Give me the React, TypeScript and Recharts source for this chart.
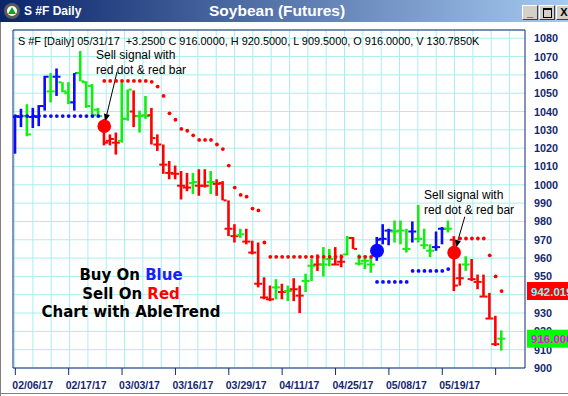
import React from 'react';
import {
  ComposedChart,
  Bar,
  Scatter,
  XAxis,
  YAxis,
  CartesianGrid,
  ReferenceArea,
  ReferenceLine,
  ReferenceDot,
} from 'recharts';

// ---------- data ----------
const TICK_INDEX = [0, 9, 18, 27, 36, 45, 54, 63, 72, 81];
const TICK_LABELS = ['02/06/17', '02/17/17', '03/03/17', '03/16/17', '03/29/17', '04/11/17', '04/25/17', '05/08/17', '05/19/17', ''];
const Y_TICKS = [900, 910, 920, 930, 940, 950, 960, 970, 980, 990, 1000, 1010, 1020, 1030, 1040, 1050, 1060, 1070, 1080];

// trend state per bar: B = up (blue), G = neutral (green), R = down (red)
const trend = [
  'B', 'B', 'G', 'B', 'B', 'B', 'G', 'B', 'G', 'G',
  'B', 'G', 'G', 'G', 'G', 'R', 'R', 'R', 'G', 'G',
  'R', 'G', 'G', 'R', 'R', 'R', 'R', 'R', 'R', 'R',
  'G', 'R', 'R', 'G', 'R', 'R', 'R', 'R', 'G', 'R',
  'R', 'R', 'R', 'R', 'G', 'R', 'G', 'R', 'R', 'G',
  'G', 'R', 'G', 'G', 'R', 'R', 'G', 'R', 'G', 'G',
  'G', 'B', 'B', 'B', 'G', 'G', 'G', 'B', 'G', 'G',
  'G', 'B', 'B', 'G', 'R', 'R', 'G', 'R', 'R', 'R',
  'R', 'R', 'G',
];
const highs = [
  1038, 1041.5, 1044, 1042, 1043.5, 1059.5, 1061, 1063.5, 1056, 1056,
  1061, 1073, 1056.5, 1055, 1042, 1036, 1027.5, 1028.5, 1056, 1052,
  1051.5, 1040.5, 1048.5, 1042, 1027.5, 1022, 1013, 1010.5, 1007.5, 1006.5,
  1006.5, 1008.5, 1008.5, 1007.5, 1003, 1002, 991.5, 978.5, 976, 976,
  969.5, 968.5, 949.5, 945, 948.5, 946, 945, 949, 945, 951.5,
  959.5, 962, 966, 965, 966, 962, 972, 971.5, 962, 961.5,
  960.5, 971.5, 978.5, 976, 980.5, 980.5, 976, 980, 989, 976,
  967.5, 974.5, 977, 980.5, 972, 957, 961, 959.5, 951, 951,
  941, 928.5, 920.5,
];
const lows = [
  1017, 1031.5, 1026.5, 1031, 1032, 1040.5, 1045, 1048.5, 1050.5, 1044,
  1040.5, 1056.5, 1042, 1037.5, 1037, 1021.5, 1021.5, 1016.5, 1023, 1035,
  1031.5, 1028.5, 1036, 1022, 1018.5, 1006, 1003, 1003, 992, 996.5,
  995, 994, 998.5, 995, 994, 991.5, 972, 968.5, 971, 967.5,
  962, 944, 937.5, 936.5, 937.5, 937.5, 936.5, 936.5, 930, 941.5,
  947.5, 953, 950, 955.5, 956, 955, 961.5, 965, 956, 954,
  952, 958.5, 967.5, 967, 968.5, 967.5, 963, 968.5, 968.5, 965,
  960.5, 964, 967.5, 974, 942, 945, 953, 947.5, 943, 938.5,
  926.5, 912, 909.5,
];
const opens = [
  1037, 1037, 1037.5, 1037, 1037, 1043, 1051, 1059, 1056, 1050,
  1045, 1061, 1056, 1054, 1041, 1033, 1024, 1023, 1024, 1036,
  1040, 1037.5, 1038, 1038, 1022, 1011, 1006.5, 1006, 999.5, 998.5,
  1001, 999.5, 999.5, 1001.5, 1000.5, 1001, 976, 972, 972.5, 969,
  963, 946, 938.5, 937.5, 944, 941.5, 942, 943, 939.5, 947.5,
  955.8, 956.5, 956.5, 959.5, 956.5, 958, 962, 971, 957, 958.5,
  956.5, 964, 970.5, 975, 974.5, 975, 965, 974.5, 970.5, 967,
  964, 966, 976, 976, 970, 949, 956.5, 948.5, 947, 939,
  927, 913, 916,
];
const closes = [
  1037.5, 1037.5, 1027.5, 1037.5, 1043, 1059, 1051, 1059, 1051, 1045,
  1061, 1056.5, 1043, 1038, 1037.5, 1023, 1025, 1023, 1036, 1052,
  1037.5, 1037.5, 1037.5, 1025.5, 1022, 1011, 1006.5, 1006, 999.5, 998.5,
  1001.5, 999.5, 999.5, 1001.5, 1000.5, 991.5, 976, 972, 973, 969,
  963, 946, 938.5, 937.5, 944, 941.5, 942, 943, 939.5, 947.5,
  955.8, 956.5, 956.5, 959.5, 956.5, 958, 971, 965, 957, 958.5,
  956.5, 970, 970.5, 975, 974.5, 975, 965, 974.5, 970.5, 967,
  964, 966, 976, 976, 945, 949, 956.5, 948.5, 947, 939,
  927, 913, 916,
];
// AbleTrend stops (dots)
const buyStop = [
  1037.5, 1037.5, 1037.5, 1037.5, 1037.5, 1037.5, 1037.5, 1037.5, 1037.5, 1037.5,
  1037.5, 1037.5, 1037.5, 1037.5, 1037.5, null, null, null, null, null,
  null, null, null, null, null, null, null, null, null, null,
  null, null, null, null, null, null, null, null, null, null,
  null, null, null, null, null, null, null, null, null, null,
  null, null, null, null, null, null, null, null, null, null,
  null, 947, 947, 947, 947, 947, 947, 953, 953, 953,
  953, 953, 953, 954, null, null, null, null, null, null,
  null, null, null,
];
const sellStop = [
  null, null, null, null, null, null, null, null, null, null,
  null, null, null, null, null, 1056.7, 1056.7, 1056.7, 1056.7, 1056.7,
  1056.7, 1056.7, 1056.7, 1056.2, 1053.6, 1048.5, 1039, 1035.5, 1030.5, 1029.5,
  1027, 1024.5, 1024.5, 1024.5, 1022, 1019.5, 1010.5, 998.5, 994.5, 993.5,
  987, 986, 968.5, 960.7, 960.7, 960.7, 960.7, 960.7, 960.7, 960.7,
  960.7, 960.7, 960.7, 960.7, 960.7, 960.7, null, null, 960.7, 960.7,
  960.7, null, null, null, null, null, null, null, null, null,
  null, null, null, null, null, 970.7, 970.7, 970.7, 970.7, 970.7,
  961.5, 950, 942,
];
const buySignals = [{ i: 61, v: 964 }];
const sellSignals = [{ i: 15, v: 1032 }, { i: 74, v: 963 }];
const lastStop = 942.019;
const lastClose = 916.0;

// ---------- styling ----------
const FONT = 'Arial, "Liberation Sans", sans-serif';
const NAVY = '#14286e';
const COLORS: Record<string, string> = { B: '#0a0aff', G: '#11ee11', R: '#ff0000' };
const X_DOMAIN: [number, number] = [-0.39, 85.95];
const Y_DOMAIN: [number, number] = [900, 1084.5];

const OhlcShape = (props: any) => {
  const { x, y, width, height, payload } = props;
  if (!payload || height == null || isNaN(y)) return null;
  const { h, l, o, c, t } = payload;
  const color = COLORS[t];
  const cx = x + width / 2;
  const span = h - l || 1;
  const yo = y + ((h - o) / span) * height;
  const yc = y + ((h - c) / span) * height;
  return (
    <g>
      <rect x={cx - 1.3} y={y} width={2.6} height={Math.max(height, 1)} fill={color} />
      <rect x={cx - 4} y={yo - 1} width={3} height={2} fill={color} />
      <rect x={cx + 1} y={yc - 1} width={3} height={2} fill={color} />
    </g>
  );
};

const makeDot = (color: string, r: number) => (p: any) =>
  p.cx == null ? null : <circle cx={p.cx} cy={p.cy} r={r} fill={color} />;

const ArrowLine = (p: any) => {
  const { x1, y1, x2, y2 } = p;
  if ([x1, y1, x2, y2].some((v) => v == null || isNaN(v))) return null;
  const ang = Math.atan2(y2 - y1, x2 - x1);
  const L = 8;
  const W = 3;
  const bx = x2 - L * Math.cos(ang);
  const by = y2 - L * Math.sin(ang);
  const pts = `${x2},${y2} ${bx + W * Math.sin(ang)},${by - W * Math.cos(ang)} ${bx - W * Math.sin(ang)},${by + W * Math.cos(ang)}`;
  return (
    <g>
      <line x1={x1} y1={y1} x2={bx} y2={by} stroke="#000" strokeWidth={1} />
      <polygon points={pts} fill="#000" />
    </g>
  );
};

const PriceBox = (fill: string, color: string, text: string) => (p: any) =>
  p.cy == null ? null : (
    <g>
      <rect x={p.cx + 2} y={p.cy - 9} width={50} height={18} fill={fill} />
      <text x={p.cx + 6} y={p.cy + 4.5} fontSize={11.5} fontWeight="bold" fill={color} fontFamily={FONT}>
        {text}
      </text>
    </g>
  );

const XTick = (p: any) => {
  const idx = TICK_INDEX.indexOf(p.payload.value);
  return (
    <text x={p.x - 3} y={p.y + 11.5} fontSize={10.5} fontWeight="bold" fill={NAVY} fontFamily={FONT}>
      {TICK_LABELS[idx]}
    </text>
  );
};

const YTick = (p: any) => (
  <text x={p.x} y={p.y + 4} fontSize={10.8} fontWeight="bold" fill={NAVY} fontFamily={FONT}>
    {p.payload.value}
  </text>
);

export default function App() {
  const rows = highs.map((h, i) => ({
    i,
    o: opens[i],
    h,
    l: lows[i],
    c: closes[i],
    t: trend[i],
    range: [lows[i], h],
  }));
  const buyDots = buyStop.map((v, i) => ({ i, v })).filter((d) => d.v != null);
  const sellDots = sellStop.map((v, i) => ({ i, v })).filter((d) => d.v != null);

  const gridGen = ({ offset }: any) => {
    const xs: number[] = [];
    for (let x = offset.left + 1.6; x < offset.left + offset.width; x += 18.33) xs.push(x);
    return xs;
  };

  return (
    <div
      style={{
        position: 'absolute',
        left: 0,
        top: 0,
        width: 568,
        height: 396,
        background: '#ffffff',
        overflow: 'hidden',
        fontFamily: FONT,
      }}
    >
      <div style={{ position: 'absolute', left: 0, top: 0 }}>
        <ComposedChart width={568} height={396} data={rows} margin={{ top: 30, right: 0, bottom: 0, left: 13 }}>
          <CartesianGrid stroke="#aaeeee" strokeWidth={1} verticalCoordinatesGenerator={gridGen} />
          <XAxis
            type="number"
            dataKey="i"
            domain={X_DOMAIN}
            allowDataOverflow
            ticks={TICK_INDEX}
            interval={0}
            height={28}
            axisLine={false}
            tickLine={{ stroke: NAVY }}
            tickSize={7}
            tickMargin={2}
            tick={<XTick />}
          />
          <YAxis
            orientation="right"
            type="number"
            domain={Y_DOMAIN}
            allowDataOverflow
            ticks={Y_TICKS}
            interval={0}
            width={43}
            axisLine={false}
            tickLine={false}
            tickSize={0}
            tickMargin={9}
            tick={<YTick />}
          />
          <ReferenceArea
            x1={X_DOMAIN[0]}
            x2={X_DOMAIN[1]}
            y1={Y_DOMAIN[0]}
            y2={Y_DOMAIN[1]}
            fill="none"
            stroke={NAVY}
            strokeWidth={1}
            ifOverflow="visible"
          />
          <Bar dataKey="range" barSize={6} shape={OhlcShape} isAnimationActive={false} />
          <Scatter data={buyDots} dataKey="v" shape={makeDot('#0a0aff', 1.9)} isAnimationActive={false} />
          <Scatter data={sellDots} dataKey="v" shape={makeDot('#ff0000', 1.9)} isAnimationActive={false} />
          <Scatter data={buySignals} dataKey="v" shape={makeDot('#0a0aff', 7)} isAnimationActive={false} />
          <Scatter data={sellSignals} dataKey="v" shape={makeDot('#ff0000', 6.8)} isAnimationActive={false} />
          <ReferenceLine
            segment={[{ x: 17.15, y: 1061.6 }, { x: 15.13, y: 1034.3 }]}
            shape={ArrowLine}
            ifOverflow="visible"
          />
          <ReferenceLine
            segment={[{ x: 75.8, y: 982.6 }, { x: 74.27, y: 965.5 }]}
            shape={ArrowLine}
            ifOverflow="visible"
          />
          <ReferenceDot
            {...({ zIndex: 3000 } as any)}
            x={X_DOMAIN[1]}
            y={lastStop}
            r={0}
            ifOverflow="visible"
            shape={PriceBox('#ff0000', '#66ffff', lastStop.toFixed(3))}
          />
          <ReferenceDot
            {...({ zIndex: 3000 } as any)}
            x={X_DOMAIN[1]}
            y={lastClose}
            r={0}
            ifOverflow="visible"
            shape={PriceBox('#00ff00', '#ff00ff', lastClose.toFixed(3))}
          />
        </ComposedChart>
      </div>

      {/* header text */}
      <div style={{ position: 'absolute', left: 18, top: 35, fontSize: 10.9, color: '#000', whiteSpace: 'pre', lineHeight: '13px' }}>
        {'S #F [Daily] 05/31/17  +3.2500 C 916.0000, H 920.5000, L 909.5000, O 916.0000, V 130.7850K'}
      </div>

      {/* annotations */}
      <div style={{ position: 'absolute', left: 96, top: 48, fontSize: 12, color: '#000', lineHeight: '15px', whiteSpace: 'pre' }}>
        {'Sell signal with\nred dot & red bar'}
      </div>
      <div style={{ position: 'absolute', left: 424, top: 188, fontSize: 12, color: '#000', lineHeight: '15px', whiteSpace: 'pre' }}>
        {'Sell signal with\nred dot & red bar'}
      </div>
      <div
        style={{
          position: 'absolute',
          left: 30,
          top: 266,
          width: 202,
          textAlign: 'center',
          fontFamily: '"DejaVu Sans", Verdana, sans-serif',
          fontWeight: 'bold',
          fontSize: 15,
          lineHeight: '18.5px',
          color: '#000',
        }}
      >
        <div>
          Buy On <span style={{ color: '#1c1cff' }}>Blue</span>
        </div>
        <div>
          Sell On <span style={{ color: '#ff0000' }}>Red</span>
        </div>
        <div>Chart with AbleTrend</div>
      </div>

      {/* window frame */}
      <div style={{ position: 'absolute', left: 0, top: 22, width: 1, height: 374, background: '#808080' }} />
      <div style={{ position: 'absolute', left: 0, top: 393, width: 568, height: 1, background: '#808080' }} />

      {/* title bar */}
      <div
        style={{
          position: 'absolute',
          left: 0,
          top: 0,
          width: 568,
          height: 22,
          background: 'linear-gradient(to right, #0a246a 0%, #a6caf0 100%)',
        }}
      >
        <div
          style={{
            position: 'absolute',
            left: 4,
            top: 3,
            width: 16,
            height: 16,
            borderRadius: 8,
            background: '#5a5a5a',
          }}
        >
          <div style={{ position: 'absolute', left: 3, top: 3, width: 10, height: 10, borderRadius: 5, background: '#ffffff' }} />
          <div
            style={{
              position: 'absolute',
              left: 4,
              top: 4,
              width: 0,
              height: 0,
              borderLeft: '4px solid transparent',
              borderRight: '4px solid transparent',
              borderBottom: '7px solid #1aa01a',
            }}
          />
        </div>
        <div style={{ position: 'absolute', left: 24, top: 4, color: '#fff', fontWeight: 'bold', fontSize: 12 }}>S #F Daily</div>
        <div style={{ position: 'absolute', left: 209, top: 2, color: '#fff', fontWeight: 'bold', fontSize: 15.5 }}>Soybean (Futures)</div>
        {['_', '', 'X'].map((g, k) => (
          <div
            key={k}
            style={{
              position: 'absolute',
              left: 522 + k * 17,
              top: 5,
              width: 14,
              height: 13,
              background: '#d4d0c8',
              borderTop: '1px solid #ffffff',
              borderLeft: '1px solid #ffffff',
              borderRight: '1px solid #404040',
              borderBottom: '1px solid #404040',
              fontSize: 11,
              fontWeight: 'bold',
              lineHeight: '12px',
              textAlign: 'center',
              color: '#000',
            }}
          >
            {k === 1 ? (
              <div style={{ position: 'absolute', left: 3, top: 2, width: 7, height: 7, border: '1px solid #000', borderTopWidth: 2 }} />
            ) : (
              g
            )}
          </div>
        ))}
      </div>
    </div>
  );
}
